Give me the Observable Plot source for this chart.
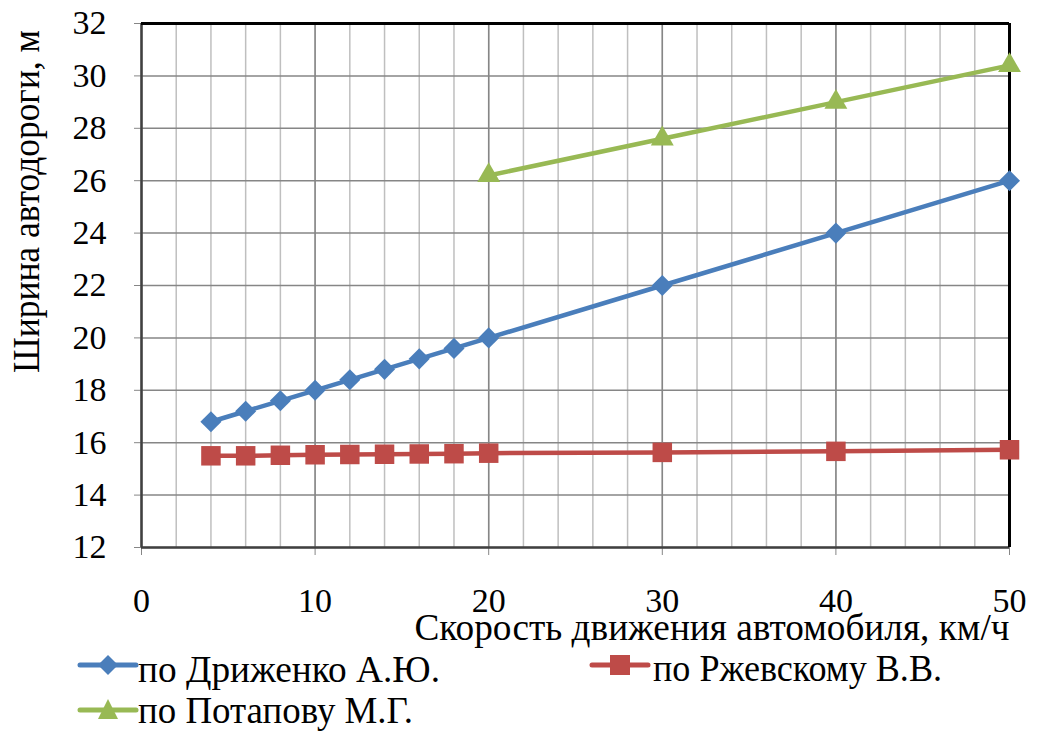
<!DOCTYPE html>
<html><head><meta charset="utf-8">
<script src="https://cdn.jsdelivr.net/npm/d3@7"></script>
<script src="https://cdn.jsdelivr.net/npm/@observablehq/plot@0.6"></script>
<style>
body{margin:0;background:#fff;}
</style></head>
<body><div id="chart"></div><div id="legend"></div>
<script>
const speed = [4, 6, 8, 10, 12, 14, 16, 18, 20, 30, 40, 50];
const drizhenko = [16.8, 17.2, 17.6, 18.0, 18.4, 18.8, 19.2, 19.6, 20.0, 22.0, 24.0, 26.0];
const rzhevsky = [15.5, 15.5, 15.52, 15.54, 15.55, 15.56, 15.57, 15.58, 15.6, 15.63, 15.67, 15.73];
const speedPotapov = [20, 30, 40, 50];
const potapov = [26.2, 27.6, 29.0, 30.4];
const seriesNames = ["по Дриженко А.Ю.", "по Ржевскому В.В.", "по Потапову М.Г."];
const colors = ["#4A7EBB", "#BE4B48", "#98B954"];
const xTicks = [0, 10, 20, 30, 40, 50];
const yTicks = [12, 14, 16, 18, 20, 22, 24, 26, 28, 30, 32];
const xMinor = d3.range(0, 51, 2);
const xTitle = "Скорость движения автомобиля, км/ч";
const yTitle = "Ширина автодороги, м";

const dA = speed.map((x, i) => ({x, y: drizhenko[i]}));
const dB = speed.map((x, i) => ({x, y: rzhevsky[i]}));
const dC = speedPotapov.map((x, i) => ({x, y: potapov[i]}));

const FONT = "Liberation Serif";
const W = 1037, H = 648;
const plot = Plot.plot({
  width: W, height: H,
  marginLeft: 141, marginRight: 28, marginTop: 23, marginBottom: H - 547,
  x: {domain: [0, 50]},
  y: {domain: [12, 32]},
  style: {fontSize: "34px", color: "#000", background: "#fff"},
  marks: [
    Plot.ruleX(xMinor, {stroke: "#BFBFBF", strokeWidth: 1.5}),
    Plot.ruleX(xTicks, {stroke: "#868686", strokeWidth: 1.5}),
    Plot.ruleY(yTicks, {stroke: "#868686", strokeWidth: 1.5}),
    Plot.axisX({ticks: xTicks, tickSize: 8, tickPadding: 32, stroke: "#868686", label: null, fontSize: 34, fontFamily: FONT, fontVariant: "normal"}),
    Plot.axisY({ticks: yTicks, tickSize: 7, tickPadding: 28, stroke: "#868686", label: null, fontSize: 34, fontFamily: FONT, fontVariant: "normal"}),
    Plot.ruleX([0], {stroke: "#404040", strokeWidth: 2.5}),
    Plot.ruleY([12], {stroke: "#404040", strokeWidth: 2.5}),
    Plot.ruleX([50], {stroke: "#000", strokeWidth: 3}),
    Plot.ruleY([32], {stroke: "#000", strokeWidth: 3}),
    Plot.line(dA, {x: "x", y: "y", stroke: colors[0], strokeWidth: 4.5}),
    Plot.line(dB, {x: "x", y: "y", stroke: colors[1], strokeWidth: 4.5}),
    Plot.line(dC, {x: "x", y: "y", stroke: colors[2], strokeWidth: 4.5}),
    Plot.dot(dA, {x: "x", y: "y", symbol: "diamond2", r: 9.5, fill: colors[0], stroke: "none"}),
    Plot.dot(dB, {x: "x", y: "y", symbol: "square", r: 11, fill: colors[1], stroke: "none"}),
    Plot.dot(dC, {x: "x", y: "y", symbol: "triangle", r: 8.5, fill: colors[2], stroke: "none"}),
    Plot.text([xTitle], {frameAnchor: "bottom-right", textAnchor: "end", lineAnchor: "middle", dy: 80, dx: 0, fontSize: 38, fontFamily: FONT, className: "xtitle"}),
    Plot.text([yTitle], {frameAnchor: "top-left", rotate: -90, textAnchor: "middle", lineAnchor: "middle", dx: -115, dy: 178, fontSize: 38, fontFamily: FONT, className: "ytitle"})
  ]
});
plot.setAttribute("font-family", FONT);
plot.querySelectorAll("g, text").forEach(el => { if (el.tagName === "text" || el.hasAttribute("font-family")) el.setAttribute("font-family", FONT); });
document.getElementById("chart").appendChild(plot);
const fit = (sel, len) => { const t = plot.querySelector(sel + " text"); if (t) { t.setAttribute("textLength", len); t.setAttribute("lengthAdjust", "spacingAndGlyphs"); } };
fit(".xtitle", 595);
fit(".ytitle", 343);

// legend below the chart
const legendItems = [
  {name: seriesNames[0], color: colors[0], sym: "diamond", x0: 80, ly: 17, tx: 138, ty: 34, len: 302},
  {name: seriesNames[1], color: colors[1], sym: "square", x0: 592, ly: 17, tx: 653, ty: 33, len: 289},
  {name: seriesNames[2], color: colors[2], sym: "triangle", x0: 80, ly: 62, tx: 138, ty: 75, len: 275}
];
let s = `<svg width="${W}" height="83" style="display:block" font-family="${FONT}">`;
for (const it of legendItems) {
  const cx = it.x0 + 28, cy = it.ly;
  s += `<line x1="${it.x0}" x2="${it.x0 + 56}" y1="${cy}" y2="${cy}" stroke="${it.color}" stroke-width="5" stroke-linecap="round"/>`;
  if (it.sym === "diamond") s += `<path d="M${cx},${cy-10} L${cx+10},${cy} L${cx},${cy+10} L${cx-10},${cy}Z" fill="${it.color}"/>`;
  if (it.sym === "square") s += `<rect x="${cx-10}" y="${cy-10}" width="20" height="20" fill="${it.color}"/>`;
  if (it.sym === "triangle") s += `<path d="M${cx},${cy-11} L${cx+10},${cy+9} L${cx-10},${cy+9}Z" fill="${it.color}"/>`;
  s += `<text x="${it.tx}" y="${it.ty}" font-size="38" font-family="${FONT}" textLength="${it.len}" lengthAdjust="spacingAndGlyphs" fill="#000">${it.name}</text>`;
}
s += `</svg>`;
document.getElementById("legend").innerHTML = s;
</script></body></html>
